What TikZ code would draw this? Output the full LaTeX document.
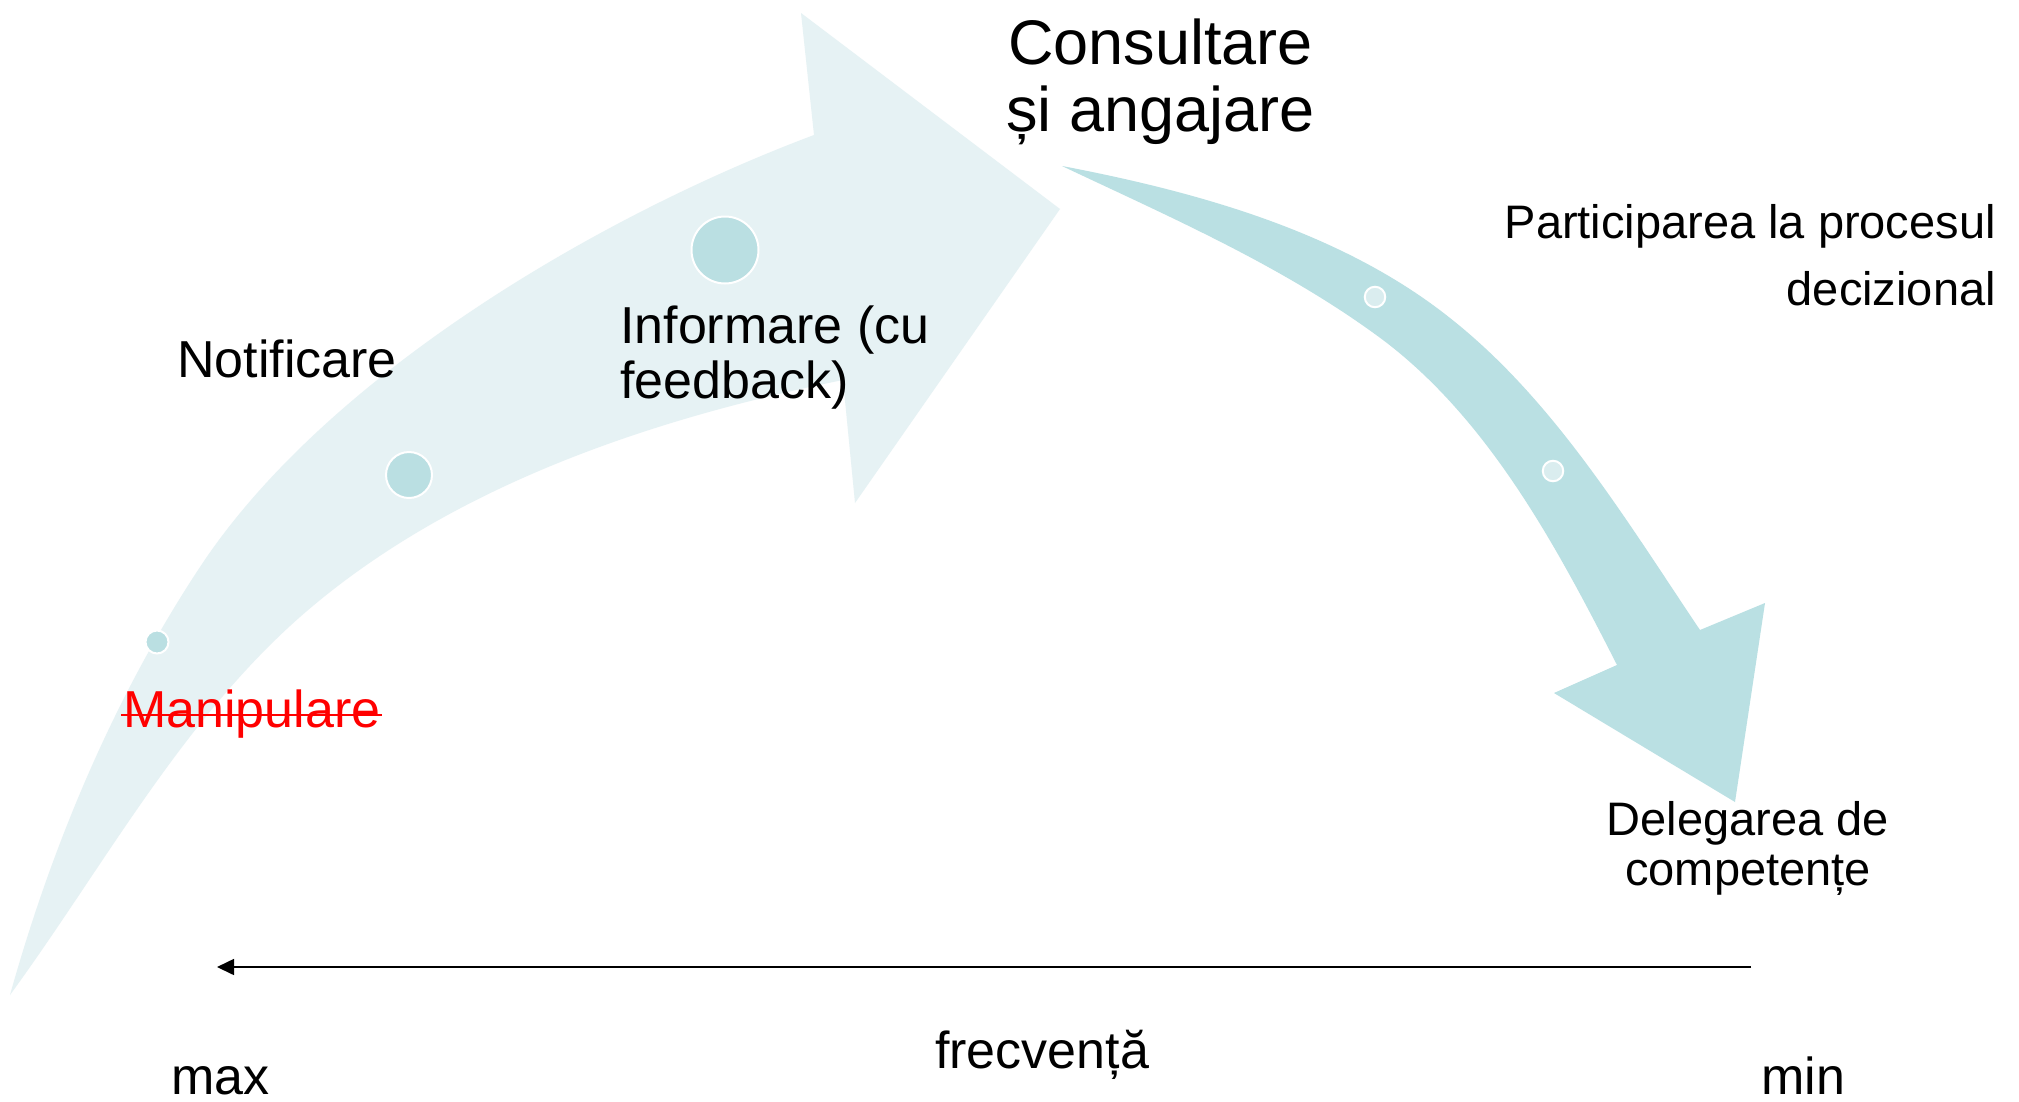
\documentclass[tikz,border=0pt]{standalone}
\usepackage{fontspec}
\setmainfont{Liberation Sans}
\usetikzlibrary{arrows.meta}
\definecolor{bigarrow}{HTML}{E6F2F4}
\definecolor{smallarrow}{HTML}{BAE0E3}
\definecolor{dotdark}{HTML}{BADFE2}
\definecolor{dotlight}{HTML}{DAEDEF}
\begin{document}
\begin{tikzpicture}[x=1pt,y=-1pt,
  lbl/.style={inner sep=0pt, anchor=base west, font=\fontsize{52}{55}\selectfont},
  lblsmall/.style={inner sep=0pt, font=\fontsize{47}{50}\selectfont},
  lblbig/.style={inner sep=0pt, anchor=base west, font=\fontsize{63}{67}\selectfont},
  dotA/.style={circle, fill=dotdark, draw=white, line width=2pt, inner sep=0pt},
  dotB/.style={circle, fill=dotlight, draw=white, line width=2pt, inner sep=0pt, minimum size=20.5pt},
  axis/.style={line width=1.6pt, -{Triangle[length=17pt,width=16pt]}}
]
\useasboundingbox (0,0) rectangle (2019,1101);
\fill[white] (0,0) rectangle (2019,1101);

% big curved arrow
\fill[bigarrow] (10,995) .. controls (52,845) and (114,697) .. (200,567)
  .. controls (326,376) and (598,216) .. (814,135)
  -- (801,13) -- (1060,209) -- (855,503) -- (843,380)
  .. controls (650,419) and (448,487) .. (300,617)
  .. controls (181,722) and (104,866) .. (10,995) -- cycle;

% small curved arrow
\fill[smallarrow] (1062,166) .. controls (1198,192) and (1342,232) .. (1450,318)
  .. controls (1554,400) and (1626,520) .. (1700,630)
  -- (1765,603) -- (1735,802) -- (1554,693) -- (1617,665)
  .. controls (1557,547) and (1489,420) .. (1383,340)
  .. controls (1285,267) and (1172,218) .. (1062,166) -- cycle;

% dots
\node[dotA, minimum size=23pt] (d1) at (157,642) {};
\node[dotA, minimum size=46pt] (d2) at (409,475) {};
\node[dotA, minimum size=67pt] (d3) at (725,250) {};
\node[dotB] (d4) at (1375,297) {};
\node[dotB] (d5) at (1553,471) {};

% labels
\node[lblbig] (cons1) at (1008,64) {Consultare};
\node[lblbig] (cons2) at (1006,131) {și angajare};
\node[lbl] (notif) at (177,377) {Notificare};
\node[lbl] (info1) at (620,343) {Informare (cu};
\node[lbl] (info2) at (620,398) {feedback)};
\node[lbl, text=red] (manip) at (123,727) {Manipulare};
\draw[red, line width=2.4pt] ([xshift=-2pt,yshift=12pt]manip.base west) -- ([xshift=1pt,yshift=12pt]manip.base east);
\node[lblsmall, anchor=base east] (part1) at (1996,238) {Participarea la procesul};
\node[lblsmall, anchor=base east] (part2) at (1996,305) {decizional};
\node[lblsmall, anchor=base] (deleg1) at (1748,835) {Delegarea de};
\node[lblsmall, anchor=base] (deleg2) at (1748,885) {competențe};
\node[lbl] (frecv) at (935,1068) {frecvență};
\node[lbl] (max) at (171,1094) {max};
\node[lbl] (min) at (1761,1094) {min};

% frequency axis
\coordinate (axR) at (1751,967);
\coordinate (axL) at (217,967);
\draw[axis] (axR) -- (axL);
\end{tikzpicture}
\end{document}
